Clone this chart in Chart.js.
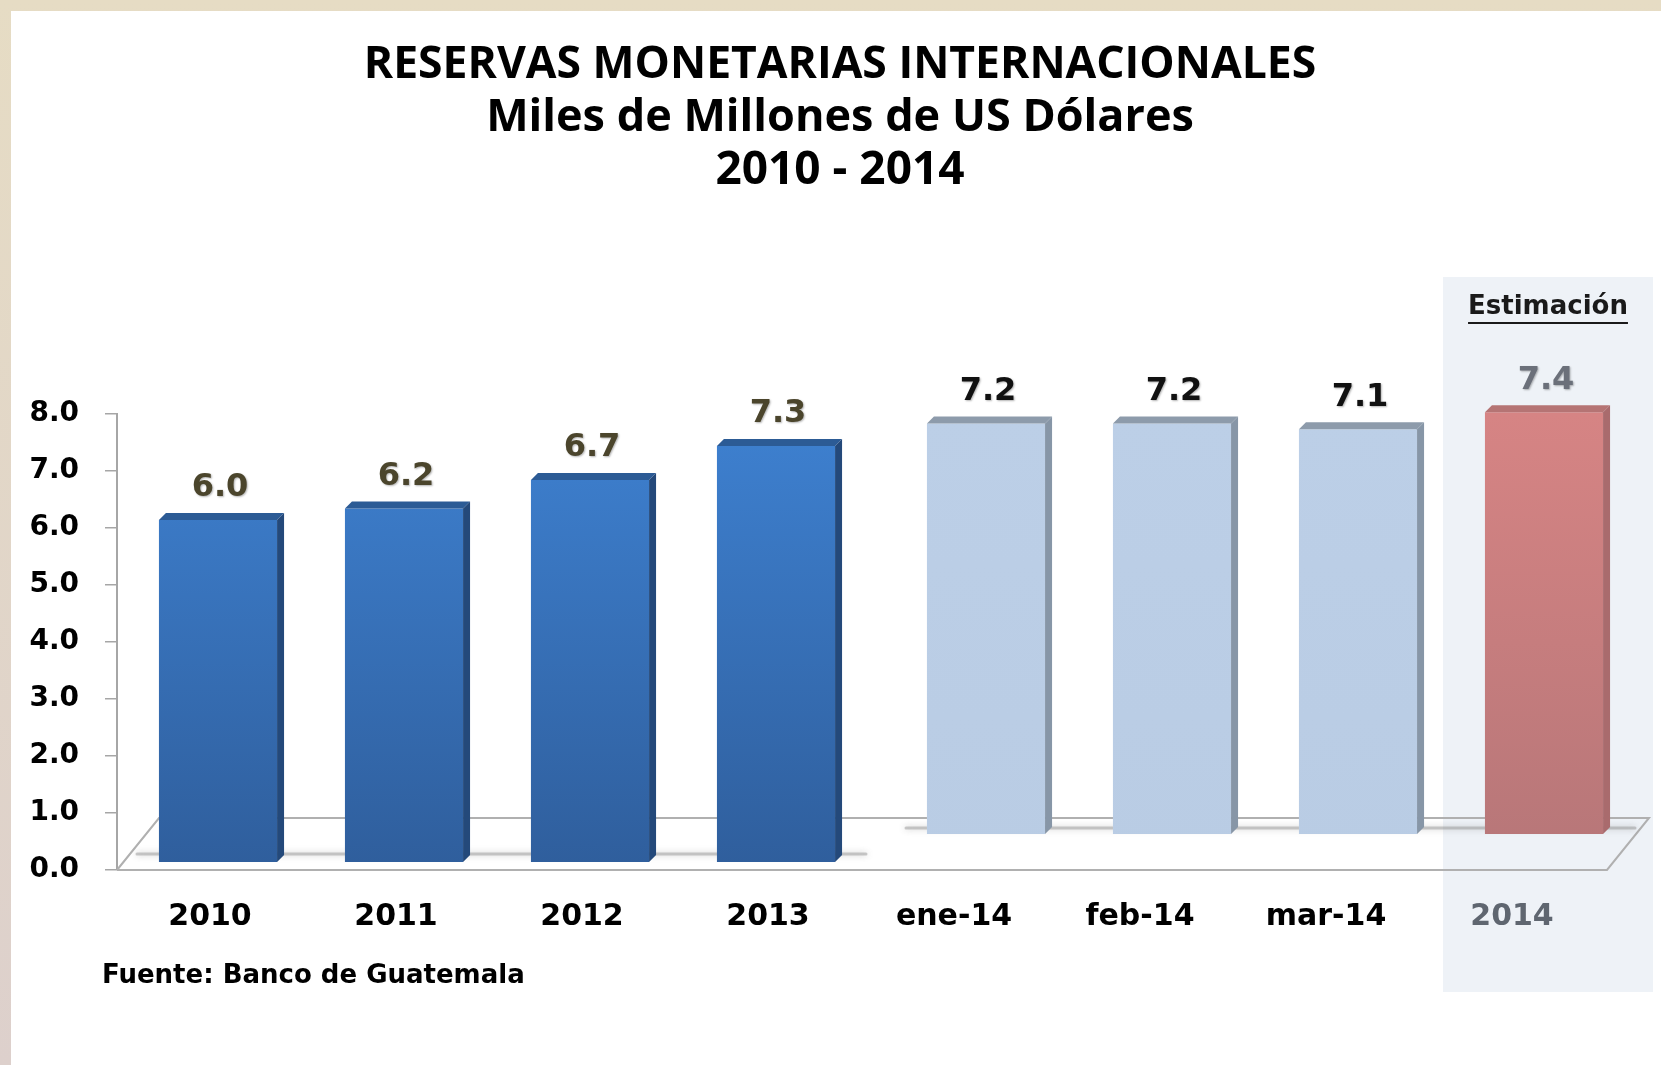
<!DOCTYPE html>
<html>
<head>
<meta charset="utf-8">
<script src="https://cdn.jsdelivr.net/npm/chart.js@4.4.1/dist/chart.umd.min.js"></script>
<style>
  html, body { margin: 0; padding: 0; background: #fff; }
  #frame { position: absolute; left: 0; top: 0; width: 1661px; height: 1065px;
           background: linear-gradient(to bottom, #e6dcc4, #ddd0cc); }
  #paper { position: absolute; left: 11px; top: 11px; right: 0; bottom: 0; background: #fff; }
  #chart { position: absolute; left: 0; top: 0; }
</style>
</head>
<body>
<div id="frame"><div id="paper"></div></div>
<canvas id="chart" width="1661" height="1065"></canvas>
<script>
// Reservas monetarias internacionales, miles de millones de US$
let categories = ['2010', '2011', '2012', '2013', 'ene-14', 'feb-14', 'mar-14', '2014'];
let anuales    = [6.0, 6.2, 6.7, 7.3, null, null, null, null];
let mensuales  = [null, null, null, null, 7.2, 7.2, 7.1, null];
let estimacion = [null, null, null, null, null, null, null, 7.4];
let yTicks = [0, 1, 2, 3, 4, 5, 6, 7, 8];

// 3D look: front row and back row of the floor are offset from the axes
let depth = { xFront: 8, yFront: -8, xBack: 32, yBack: -36 };
let face = 7;

let styles = [
  { top: '#3e81d1', bottom: '#2f5e9c', lid: '#2c5b95', side: '#24497a', label: '#4b452c' },
  { top: '#bccfe7', bottom: '#b9cce4', lid: '#8d9bab', side: '#8796a7', label: '#111111' },
  { top: '#d68484', bottom: '#b67678', lid: '#b57474', side: '#a96b6d', label: '#6b707a' }
];

function fade(c, s) {
  let area = c.chart.chartArea;
  if (!area) return s.bottom;
  let g = c.chart.ctx.createLinearGradient(0, area.top, 0, area.bottom);
  g.addColorStop(0, s.top);
  g.addColorStop(1, s.bottom);
  return g;
}

let depthShift = {
  id: 'depthShift',
  afterLayout(chart) {
    for (let [id, d] of Object.entries(depth)) {
      let s = chart.scales[id];
      if (s.isHorizontal()) { s.left += d; s.right += d; }
      else { s.top += d; s.bottom += d; }
      s.configure();
    }
  }
};

let decor = {
  id: 'decor',
  beforeDraw(chart) {
    let ctx = chart.ctx;
    // estimate panel
    ctx.save();
    ctx.fillStyle = '#eef2f7';
    ctx.fillRect(1443, 277, 210, 715);
    ctx.restore();
  },
  beforeDatasetsDraw(chart) {
    let ctx = chart.ctx;
    let x = chart.scales.x, y = chart.scales.y;
    let bx = 42, by = -52;
    ctx.save();
    ctx.strokeStyle = '#b0b0b0';
    ctx.lineWidth = 2;
    ctx.beginPath();
    ctx.moveTo(x.left, y.bottom);
    ctx.lineTo(x.right + 2, y.bottom);
    ctx.lineTo(x.right + 2 + bx, y.bottom + by);
    ctx.lineTo(x.left + bx, y.bottom + by);
    ctx.lineTo(x.left, y.bottom);
    ctx.stroke();
    // soft shadows under each row
    ctx.lineCap = 'round';
    ctx.strokeStyle = 'rgba(140,140,140,0.45)';
    ctx.shadowColor = 'rgba(100,100,100,0.7)';
    ctx.shadowBlur = 6;
    ctx.lineWidth = 3;
    let f = chart.scales.yFront.bottom - 8, b = chart.scales.yBack.bottom - 6;
    ctx.beginPath();
    ctx.moveTo(x.left + 20, f); ctx.lineTo(chart.scales.xFront.getPixelForValue(3) + 90, f);
    ctx.moveTo(chart.scales.xBack.getPixelForValue(4) - 80, b); ctx.lineTo(x.right + 30, b);
    ctx.stroke();
    ctx.restore();
  },
  afterDatasetsDraw(chart) {
    let ctx = chart.ctx;
    ctx.save();
    chart.getSortedVisibleDatasetMetas().forEach(meta => {
      let s = styles[meta.index];
      meta.data.forEach((bar, i) => {
        let v = chart.data.datasets[meta.index].data[i];
        if (v === null) return;
        let { x, y, base, width } = bar.getProps(['x', 'y', 'base', 'width'], true);
        let l = x - width / 2, r = x + width / 2;
        ctx.fillStyle = s.lid;
        ctx.beginPath();
        ctx.moveTo(l, y); ctx.lineTo(r, y); ctx.lineTo(r + face, y - face); ctx.lineTo(l + face, y - face);
        ctx.closePath(); ctx.fill();
        ctx.fillStyle = s.side;
        ctx.beginPath();
        ctx.moveTo(r, y); ctx.lineTo(r + face, y - face); ctx.lineTo(r + face, base - face); ctx.lineTo(r, base);
        ctx.closePath(); ctx.fill();
        ctx.save();
        ctx.font = 'bold 32px "DejaVu Sans"';
        ctx.textAlign = 'center';
        ctx.textBaseline = 'middle';
        ctx.shadowColor = 'rgba(0,0,0,0.3)';
        ctx.shadowBlur = 2; ctx.shadowOffsetX = 1; ctx.shadowOffsetY = 1;
        ctx.fillStyle = s.label;
        ctx.fillText(v.toFixed(1), x + 2, y - 32);
        ctx.restore();
      });
    });
    ctx.restore();
  },
  afterDraw(chart) {
    let ctx = chart.ctx;
    ctx.save();
    ctx.fillStyle = '#000';
    ctx.textAlign = 'center';
    ctx.textBaseline = 'middle';
    ctx.font = 'bold 44.5px "Open Sans"';
    ctx.fillText('RESERVAS MONETARIAS INTERNACIONALES', 840, 65);
    ctx.font = 'bold 45px "Open Sans"';
    ctx.fillText('Miles de Millones de US Dólares', 840, 118);
    ctx.font = 'bold 46px "Open Sans"';
    ctx.fillText('2010 - 2014', 840, 171);

    ctx.font = 'bold 26px "DejaVu Sans"';
    ctx.fillStyle = '#1a1a1a';
    ctx.fillText('Estimación', 1548, 307);
    let w = ctx.measureText('Estimación').width;
    ctx.fillRect(1548 - w / 2, 322, w, 2);

    ctx.textAlign = 'left';
    ctx.font = 'bold 26px "DejaVu Sans"';
    ctx.fillStyle = '#000';
    ctx.fillText('Fuente: Banco de Guatemala', 102, 976);
    ctx.restore();
  }
};

let hiddenCat = { type: 'category', display: false, offset: true, grid: { display: false } };
let hiddenVal = { type: 'linear', display: false, min: 0, max: 8 };

let chart = new Chart(document.getElementById('chart').getContext('2d'), {
  type: 'bar',
  data: {
    labels: categories,
    datasets: [
      { data: anuales, xAxisID: 'xFront', yAxisID: 'yFront',
        backgroundColor: c => fade(c, styles[0]) },
      { data: mensuales, xAxisID: 'xBack', yAxisID: 'yBack',
        backgroundColor: c => fade(c, styles[1]) },
      { data: estimacion, xAxisID: 'xBack', yAxisID: 'yBack',
        backgroundColor: c => fade(c, styles[2]) }
    ]
  },
  options: {
    responsive: false,
    animation: false,
    layout: { padding: { top: 414, right: 56, bottom: 0, left: 0 } },
    datasets: {
      bar: { grouped: false, clip: false, barPercentage: 0.635, categoryPercentage: 1, borderWidth: 0 }
    },
    plugins: { legend: { display: false }, tooltip: { enabled: false }, title: { display: false } },
    scales: {
      x: {
        type: 'category',
        offset: true,
        grid: { display: false },
        border: { display: false },
        ticks: {
          padding: 21,
          color: c => c.index === 7 ? '#5f6670' : '#000',
          font: { family: 'DejaVu Sans', weight: 'bold', size: 30 }
        },
        afterFit: s => { s.height = 195; }
      },
      y: {
        type: 'linear',
        min: 0, max: 8,
        afterBuildTicks: s => { s.ticks = yTicks.map(v => ({ value: v })); },
        grid: { drawOnChartArea: false, drawTicks: true, tickLength: 12, color: '#a6a6a6', lineWidth: 1.5 },
        border: { display: true, color: '#a6a6a6', width: 2 },
        ticks: {
          padding: 26,
          color: '#000',
          font: { family: 'DejaVu Sans', weight: 'bold', size: 28 },
          callback: v => Number(v).toFixed(1)
        },
        afterFit: s => { s.width = 117; }
      },
      xFront: hiddenCat,
      xBack: hiddenCat,
      yFront: hiddenVal,
      yBack: hiddenVal
    }
  },
  plugins: [depthShift, decor]
});
</script>
</body>
</html>
